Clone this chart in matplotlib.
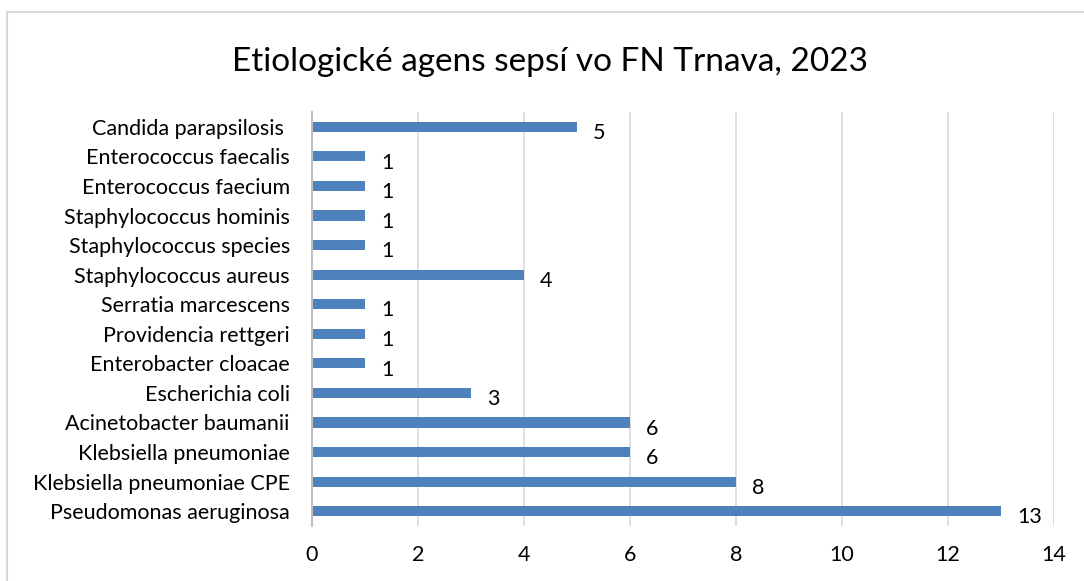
import matplotlib
matplotlib.use("Agg")
import matplotlib.pyplot as plt
from matplotlib.patches import Rectangle

categories = [
    "Pseudomonas aeruginosa",
    "Klebsiella pneumoniae CPE",
    "Klebsiella pneumoniae",
    "Acinetobacter baumanii",
    "Escherichia coli",
    "Enterobacter cloacae",
    "Providencia rettgeri",
    "Serratia marcescens",
    "Staphylococcus aureus",
    "Staphylococcus species",
    "Staphylococcus hominis",
    "Enterococcus faecium",
    "Enterococcus faecalis",
    "Candida parapsilosis ",
]
values = [13, 8, 6, 6, 3, 1, 1, 1, 4, 1, 1, 1, 1, 5]
xticks = [0, 2, 4, 6, 8, 10, 12, 14]
title = "Etiologické agens sepsí vo FN Trnava, 2023"

plt.rcParams['font.family'] = ['Lato', 'DejaVu Sans']

W, H = 1084, 581
fig = plt.figure(figsize=(W / 100, H / 100), dpi=100)
fig.patch.set_facecolor("white")

# outer chart border (cropped on right/bottom)
fig.patches.append(Rectangle((7 / W, -0.1), 1.2, 1 - 12 / H + 0.1,
                             transform=fig.transFigure, fill=False,
                             edgecolor="#D9D9D9", linewidth=1.5))

ax = fig.add_axes([312 / W, 1 - 526 / H, (1054 - 312) / W, (526 - 112) / H])
y = list(range(len(categories)))
ax.barh(y, values, height=0.34, color="#4F81BD", zorder=3)
ax.set_ylim(-0.5, len(categories) - 0.5)
ax.set_xlim(0, 14)
ax.set_xticks(xticks)
ax.set_xticklabels([str(t) for t in xticks])
ax.set_yticks(y)
ax.set_yticklabels(categories)
ax.tick_params(axis="both", length=0, labelsize=15.5, colors="black")
ax.tick_params(axis="x", pad=14)
ax.tick_params(axis="y", pad=16)
ax.grid(axis="x", color="#D9D9D9", linewidth=1.2, zorder=0)
for s in ["top", "right", "bottom"]:
    ax.spines[s].set_visible(False)
ax.spines["left"].set_color("#BFBFBF")
ax.spines["left"].set_linewidth(1.5)
ax.spines["left"].set_zorder(4)

for yi, v in zip(y, values):
    ax.annotate(str(v), (v, yi), xytext=(11.5, -4.5), textcoords="offset points",
                ha="left", va="center", fontsize=15.5)

fig.text(550 / W, 1 - 62 / H, title, ha="center", va="center", fontsize=24)

fig.savefig("out.png", dpi=100)
